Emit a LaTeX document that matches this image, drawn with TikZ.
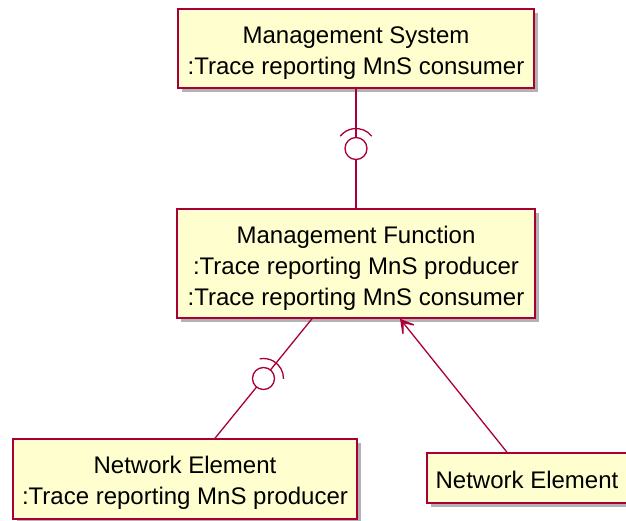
\documentclass[tikz,border=0pt]{standalone}
\usepackage{fontspec}
\setmainfont{Liberation Sans}
\usetikzlibrary{shadows,arrows.meta}
\definecolor{umlfill}{HTML}{FEFECE}
\definecolor{umlline}{HTML}{A80036}

\begin{document}
\begin{tikzpicture}[x=1pt, y=1pt, box/.style={draw=umlline, fill=umlfill, line width=1.5pt, inner sep=0pt, align=center, font=\fontsize{24}{31}\selectfont, drop shadow={shadow xshift=4pt, shadow yshift=-4pt, opacity=0.5, fill=black!60}}, link/.style={draw=umlline, line width=1.3pt}]
	
	\clip (0,0) rectangle (626,-521);
	\node[box, minimum width=356, minimum height=79, text height=56.5pt] (ms) at (356,-48.5) {Management System\\:Trace reporting MnS consumer};
	\node[box, minimum width=358, minimum height=109, text height=89.5pt] (mf) at (356,-263.5) {Management Function\\:Trace reporting MnS producer\\:Trace reporting MnS consumer};
	\node[box, minimum width=344, minimum height=80, text height=56.5pt] (nea) at (185,-479) {Network Element\\:Trace reporting MnS producer};
	\node[box, minimum width=200, minimum height=50, text height=21.5pt] (ner) at (527,-478) {Network Element};
	\draw[link] (ms) -- coordinate[pos=0.5] (l1) (mf);
	\draw[link] ([xshift=-44pt]mf.south) -- coordinate[pos=0.5] (l2) ([xshift=30pt]nea.north);
	\draw[link, -{Stealth[inset=14pt, length=20pt, width=23pt]}] ([xshift=-20pt]ner.north) -- ([xshift=44pt]mf.south);
	\draw[link, fill=white] (l1) circle (11);
	\draw[link] (l1) ++(38:20) arc[start angle=38, end angle=142, radius=20];
	\draw[link, fill=white] (l2) circle (11);
	\draw[link] (l2) ++(-1:20) arc[start angle=-1, end angle=101, radius=20];
\end{tikzpicture}
\end{document}
